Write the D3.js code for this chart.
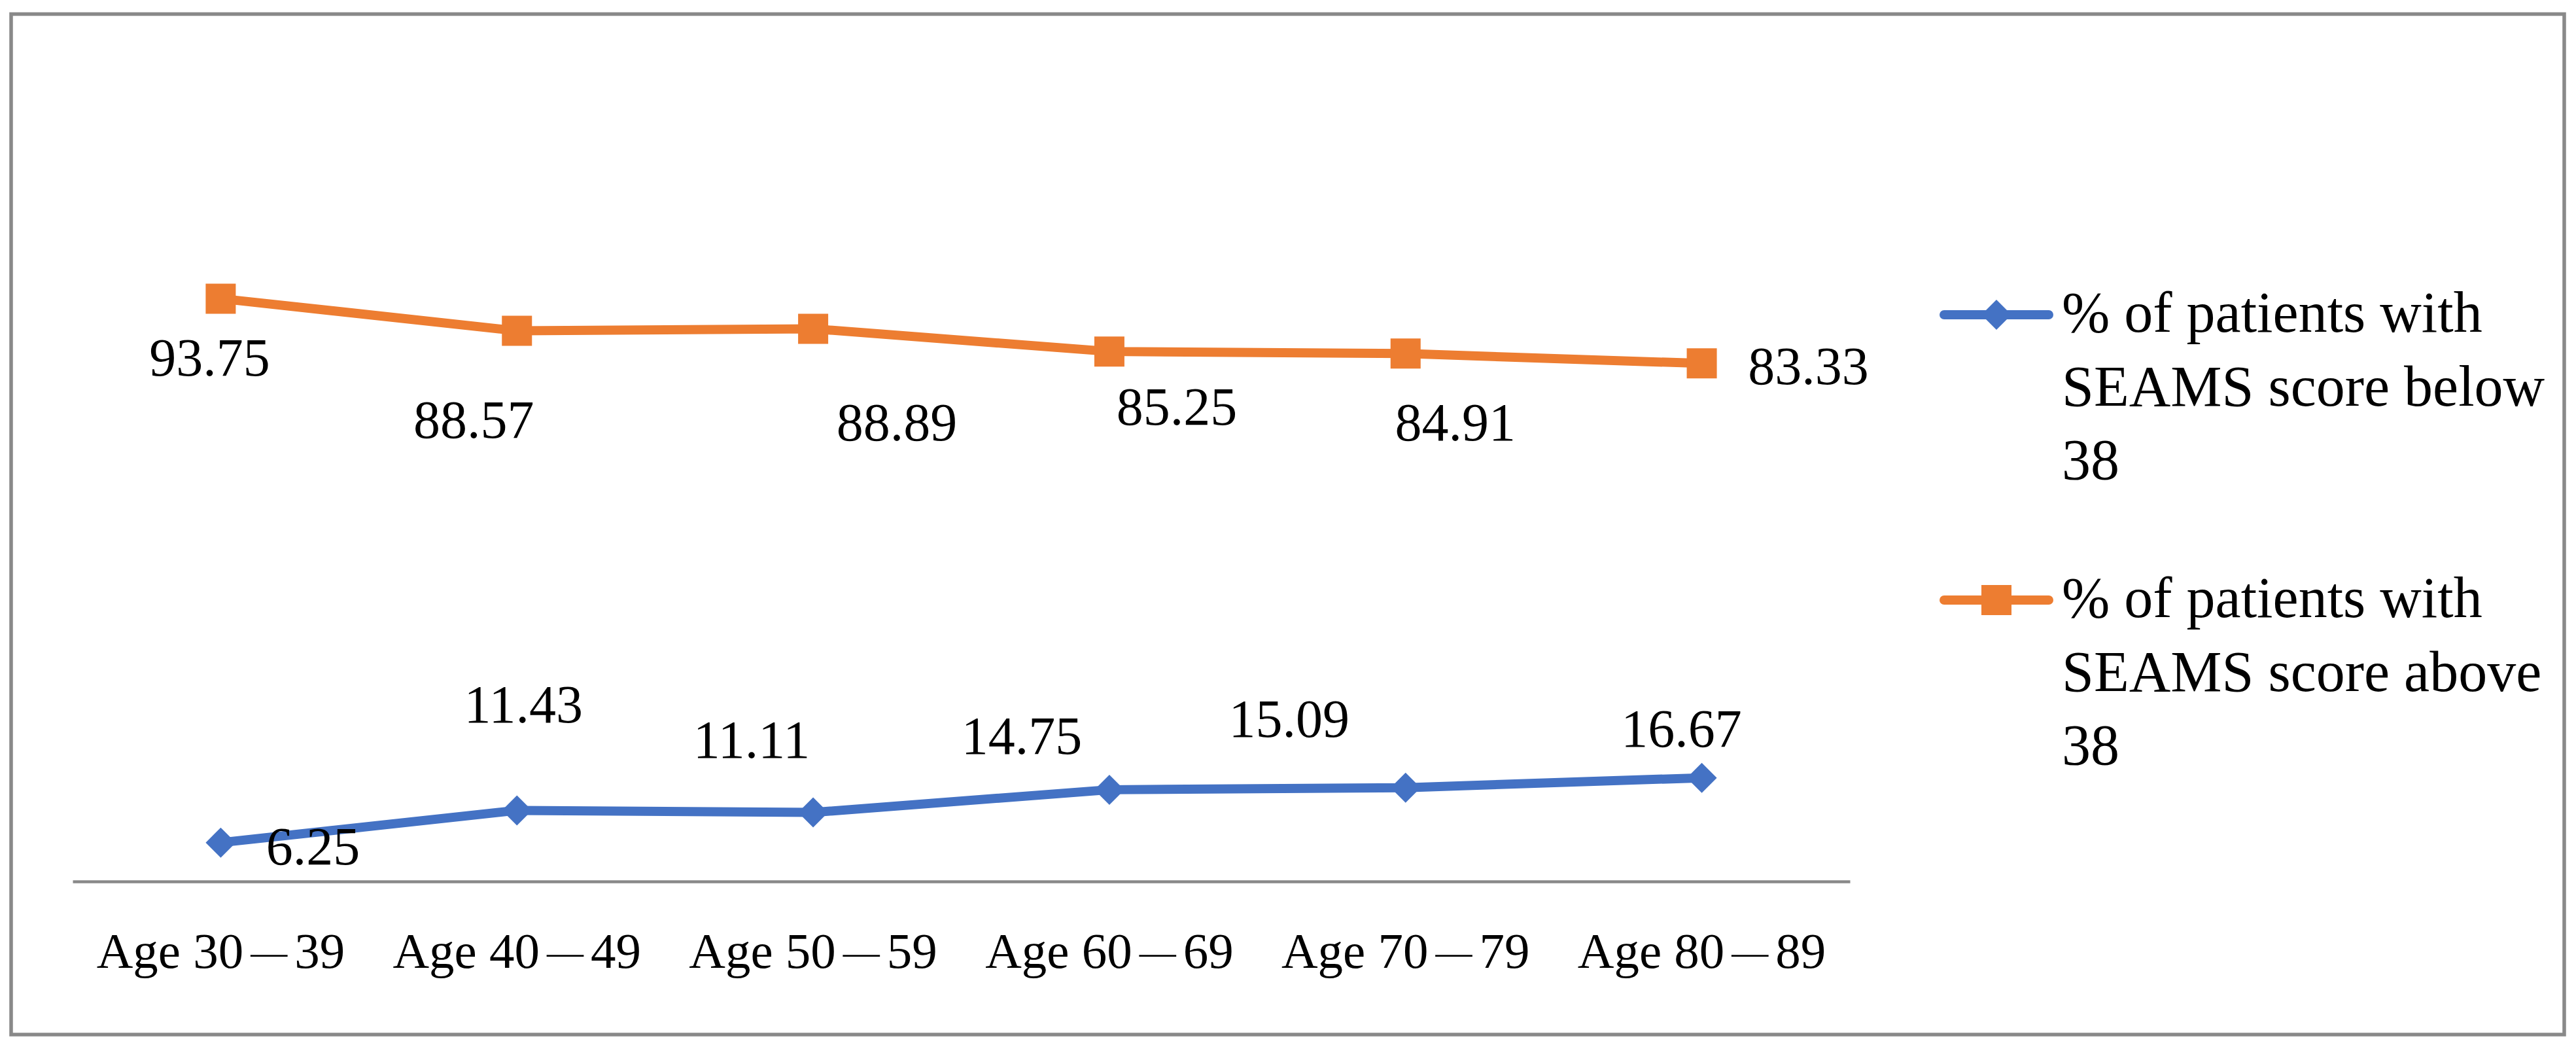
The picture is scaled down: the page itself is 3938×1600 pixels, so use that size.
<!DOCTYPE html>
<html>
<head>
<meta charset="utf-8">
<script src="https://cdn.jsdelivr.net/npm/d3@7"></script>
<style>
  html, body { margin: 0; padding: 0; background: #ffffff; }
  svg { display: block; }
  text { font-family: "Liberation Serif", "Times New Roman", serif; fill: #000; }
</style>
</head>
<body>
<script>
// ---- data ----
const categories = ["Age 30\u201439", "Age 40\u201449", "Age 50\u201459", "Age 60\u201469", "Age 70\u201479", "Age 80\u201489"];
const belowValues = [6.25, 11.43, 11.11, 14.75, 15.09, 16.67];
const aboveValues = [93.75, 88.57, 88.89, 85.25, 84.91, 83.33];
const belowLabels = ["6.25", "11.43", "11.11", "14.75", "15.09", "16.67"];
const aboveLabels = ["93.75", "88.57", "88.89", "85.25", "84.91", "83.33"];
const seriesNames = [
  ["% of patients with", "SEAMS score below", "38"],
  ["% of patients with", "SEAMS score above", "38"]
];

// ---- layout (not data) ----
const W = 3938, H = 1600;
const plot = { left: 111, right: 2828, top: 397, bottom: 1347 };
const colors = { below: "#4472C4", above: "#ED7D31", frame: "#898989" };
// manual data-label placements relative to each marker (dx, dy to baseline)
const belowLabelOffsets = [[141, 33], [10, -134], [-94, -83], [-134, -55], [-178, -78], [-31, -48]];
const aboveLabelOffsets = [[-17, 118], [-66, 163], [128, 170], [103, 112], [76, 133], [163, 32]];

const svg = d3.select("body").append("svg")
  .attr("width", W).attr("height", H);

svg.append("rect").attr("width", W).attr("height", H).attr("fill", "#fff");

// outer chart frame
svg.append("rect")
  .attr("x", 17).attr("y", 21.5)
  .attr("width", 3920 - 17).attr("height", 1581 - 21.5)
  .attr("fill", "none").attr("stroke", colors.frame).attr("stroke-width", 5.5);

const x = d3.scaleBand().domain(categories).range([plot.left, plot.right]).padding(0);
const y = d3.scaleLinear().domain([0, 100]).range([plot.bottom, plot.top]);
const cx = c => x(c) + x.bandwidth() / 2;

// x axis
const axis = svg.append("g")
  .attr("transform", `translate(0,${plot.bottom})`)
  .call(d3.axisBottom(x).tickSize(0).tickPadding(0));
axis.select(".domain").attr("stroke", colors.frame).attr("stroke-width", 4.5);
axis.selectAll(".tick text")
  .attr("y", 132).attr("dy", 0)
  .style("font-family", '"Liberation Serif", serif')
  .style("font-size", "77px")
  .attr("fill", "#000")
  .each(function (d) {
    // re-set the label so the dash has some air around it, as in the original font
    const parts = d.split("\u2014");
    const t = d3.select(this).text(null);
    t.append("tspan").text(parts[0]);
    t.append("tspan").attr("dx", 11).attr("dy", -5).style("font-size", "56px").text("\u2014");
    t.append("tspan").attr("dx", 11).attr("dy", 5).text(parts[1]);
  });

const line = d3.line().x(d => cx(d.c)).y(d => y(d.v));

const diamond = d3.symbol().type(d3.symbolSquare).size(1058);
const square = d3.symbol().type(d3.symbolSquare).size(2116);

function drawSeries(values, color, symbolPath, rotate) {
  const pts = values.map((v, i) => ({ c: categories[i], v }));
  svg.append("path").datum(pts)
    .attr("d", line)
    .attr("fill", "none")
    .attr("stroke", color)
    .attr("stroke-width", 14)
    .attr("stroke-linejoin", "round")
    .attr("stroke-linecap", "round");
  svg.append("g").selectAll("path").data(pts).join("path")
    .attr("d", symbolPath)
    .attr("fill", color)
    .attr("transform", d => `translate(${cx(d.c)},${y(d.v)}) rotate(${rotate})`);
  return pts;
}

const bPts = drawSeries(belowValues, colors.below, diamond, 45);
const aPts = drawSeries(aboveValues, colors.above, square, 0);

function drawLabels(pts, labels, offsets) {
  svg.append("g").selectAll("text").data(pts).join("text")
    .attr("x", (d, i) => cx(d.c) + offsets[i][0])
    .attr("y", (d, i) => y(d.v) + offsets[i][1])
    .attr("text-anchor", "middle")
    .style("font-size", "82px")
    .text((d, i) => labels[i]);
}
drawLabels(bPts, belowLabels, belowLabelOffsets);
drawLabels(aPts, aboveLabels, aboveLabelOffsets);

// legend
const legendItems = [
  { name: seriesNames[0], color: colors.below, sym: diamond, rot: 45, y: 481 },
  { name: seriesNames[1], color: colors.above, sym: square, rot: 0, y: 917 }
];
const lg = svg.append("g");
legendItems.forEach(it => {
  lg.append("line")
    .attr("x1", 2972).attr("x2", 3132)
    .attr("y1", it.y).attr("y2", it.y)
    .attr("stroke", it.color).attr("stroke-width", 14).attr("stroke-linecap", "round");
  lg.append("path").attr("d", it.sym).attr("fill", it.color)
    .attr("transform", `translate(3052,${it.y}) rotate(${it.rot})`);
  const t = lg.append("text").attr("x", 3152).attr("y", it.y + 26)
    .style("font-size", "88px");
  it.name.forEach((ln, k) => {
    t.append("tspan").attr("x", 3152).attr("y", it.y + 26 + k * 112.5).text(ln);
  });
});
</script>
</body>
</html>
